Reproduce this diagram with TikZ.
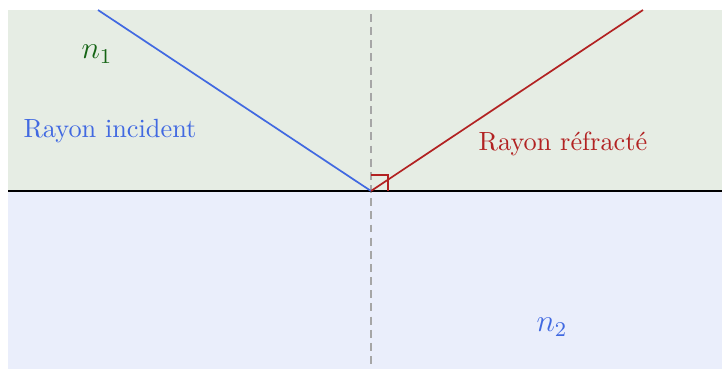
\documentclass[tikz,border=0pt]{standalone}
\definecolor{bgtop}{RGB}{230,237,228}
\definecolor{bgbot}{RGB}{234,238,251}
\definecolor{rayblue}{RGB}{65,105,225}
\definecolor{rayred}{RGB}{178,34,34}
\definecolor{darkgr}{RGB}{20,100,20}
\begin{document}
\begin{tikzpicture}[x=0.38pt,y=-0.38pt,
  ray/.style={line width=0.65pt},
  lbl/.style={inner sep=0pt},
  idx/.style={inner sep=0pt, font=\large}]
\useasboundingbox (0,0) rectangle (722,369);
\fill[bgtop] (8,10) rectangle (722,191);
\fill[bgbot] (8,191) rectangle (722,369);
\coordinate (O) at (371,191);
\coordinate (A) at (98,10);
\coordinate (B) at (643,10);
\coordinate (Ntop) at (371,14);
\coordinate (Nbot) at (371,369);
\coordinate (L) at (8,191);
\coordinate (R) at (722,191);
\draw[gray!70, line width=0.5pt, dash pattern=on 3pt off 2pt] (Ntop) -- (Nbot);
\draw[black, line width=0.75pt] (L) -- (R);
\draw[ray, rayblue] (A) -- (O);
\draw[ray, rayred] (O) -- (B);
\draw[rayred, line width=0.6pt] (371,175) -- (388,175) -- (388,191);
\node[idx, text=darkgr] (n1) at (97,54) {$n_1$};
\node[idx, text=rayblue] (n2) at (552,327) {$n_2$};
\node[lbl, text=rayblue] (inc) at (110,131) {Rayon incident};
\node[lbl, text=rayred] (ref) at (563,144) {Rayon réfracté};
\end{tikzpicture}
\end{document}
